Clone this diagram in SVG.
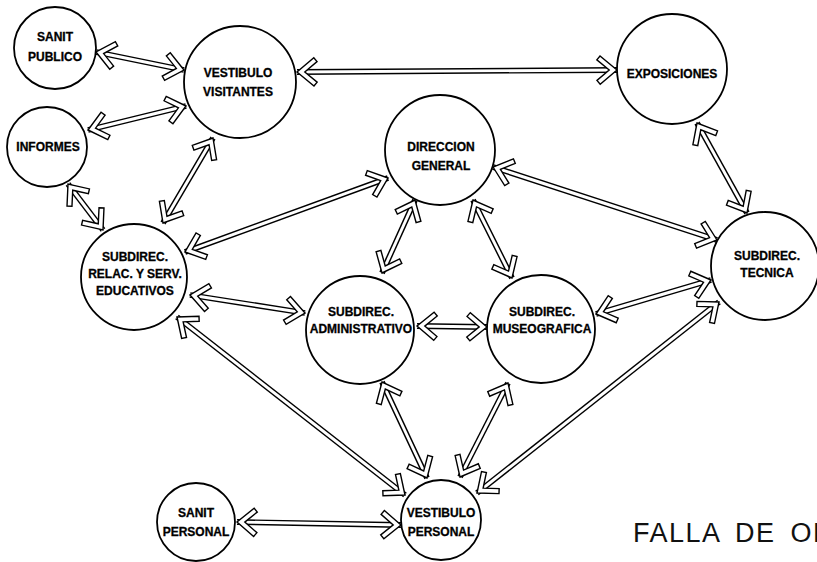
<svg xmlns="http://www.w3.org/2000/svg" width="817" height="562" viewBox="0 0 817 562">
<style>
.n{fill:#fff;stroke:#000;stroke-width:1.8}
.t{font-family:"Liberation Sans",Arial,sans-serif;font-weight:bold;font-size:12px;text-anchor:middle;fill:#000;stroke:#000;stroke-width:0.3}
.o{stroke:#000;stroke-width:5.8;fill:none}
.i{stroke:#fff;stroke-width:2.9;fill:none;marker-start:url(#ah);marker-end:url(#ah)}
.f{font-family:"Liberation Sans",Arial,sans-serif;font-size:27px;letter-spacing:1.5px;word-spacing:6px;fill:#111}
</style>
<defs>
<marker id="ah" markerUnits="userSpaceOnUse" orient="auto-start-reverse" refX="0" refY="0" markerWidth="1" markerHeight="1" overflow="visible">
<path d="M0,0 L-16.9,-14.1 L-20.1,-10.3 L-7.8,0 L-20.1,10.3 L-16.9,14.1 Z" fill="#fff" stroke="#000" stroke-width="1.4" stroke-linejoin="miter"/>
</marker>
</defs>
<rect width="817" height="562" fill="#fff"/>
<g id="connectors">
<g><path class="o" d="M96,52 L184,70"/><path class="i" d="M96,52 L184,70"/></g>
<g><path class="o" d="M88,130 L186,106"/><path class="i" d="M88,130 L186,106"/></g>
<g><path class="o" d="M297,72 L617,70"/><path class="i" d="M297,72 L617,70"/></g>
<g><path class="o" d="M68,184 L103,230"/><path class="i" d="M68,184 L103,230"/></g>
<g><path class="o" d="M213,138 L163,223"/><path class="i" d="M213,138 L163,223"/></g>
<g><path class="o" d="M388,178 L185,252"/><path class="i" d="M388,178 L185,252"/></g>
<g><path class="o" d="M493,167 L717,240"/><path class="i" d="M493,167 L717,240"/></g>
<g><path class="o" d="M697,123 L747,213"/><path class="i" d="M697,123 L747,213"/></g>
<g><path class="o" d="M190,295 L305,313"/><path class="i" d="M190,295 L305,313"/></g>
<g><path class="o" d="M415,200 L382,273"/><path class="i" d="M415,200 L382,273"/></g>
<g><path class="o" d="M473,200 L512,278"/><path class="i" d="M473,200 L512,278"/></g>
<g><path class="o" d="M417,326 L487,327"/><path class="i" d="M417,326 L487,327"/></g>
<g><path class="o" d="M596,314 L711,280"/><path class="i" d="M596,314 L711,280"/></g>
<g><path class="o" d="M177,317 L405,495"/><path class="i" d="M177,317 L405,495"/></g>
<g><path class="o" d="M382,382 L427,478"/><path class="i" d="M382,382 L427,478"/></g>
<g><path class="o" d="M508,383 L460,477"/><path class="i" d="M508,383 L460,477"/></g>
<g><path class="o" d="M719,302 L477,493"/><path class="i" d="M719,302 L477,493"/></g>
<g><path class="o" d="M237,522 L401,525"/><path class="i" d="M237,522 L401,525"/></g>
</g>
<g id="sanit-publico"><circle class="n" cx="55" cy="48" r="41"/><text class="t" x="55" y="41">SANIT</text><text class="t" x="55" y="61">PUBLICO</text></g>
<g id="vestibulo-visitantes"><circle class="n" cx="240" cy="82" r="56"/><text class="t" x="238" y="77">VESTIBULO</text><text class="t" x="238" y="96">VISITANTES</text></g>
<g id="informes"><circle class="n" cx="47" cy="147" r="40"/><text class="t" x="48" y="151">INFORMES</text></g>
<g id="exposiciones"><circle class="n" cx="672" cy="69" r="55"/><text class="t" x="672" y="78">EXPOSICIONES</text></g>
<g id="direccion-general"><circle class="n" cx="440" cy="150" r="55"/><text class="t" x="441" y="151">DIRECCION</text><text class="t" x="441" y="170">GENERAL</text></g>
<g id="subdirec-relac"><circle class="n" cx="134" cy="277" r="53"/><text class="t" x="135" y="261">SUBDIREC.</text><text class="t" x="135" y="278">RELAC. Y SERV.</text><text class="t" x="135" y="295">EDUCATIVOS</text></g>
<g id="subdirec-tecnica"><circle class="n" cx="765" cy="266" r="54"/><text class="t" x="767" y="260">SUBDIREC.</text><text class="t" x="767" y="277">TECNICA</text></g>
<g id="subdirec-administrativo"><circle class="n" cx="360" cy="330" r="54"/><text class="t" x="361" y="316">SUBDIREC.</text><text class="t" x="361" y="333">ADMINISTRATIVO</text></g>
<g id="subdirec-museografica"><circle class="n" cx="541" cy="329" r="54"/><text class="t" x="542" y="316">SUBDIREC.</text><text class="t" x="542" y="333">MUSEOGRAFICA</text></g>
<g id="sanit-personal"><circle class="n" cx="196" cy="522" r="39"/><text class="t" x="196" y="517">SANIT</text><text class="t" x="196" y="536">PERSONAL</text></g>
<g id="vestibulo-personal"><circle class="n" cx="441" cy="520" r="40"/><text class="t" x="441" y="517">VESTIBULO</text><text class="t" x="441" y="536">PERSONAL</text></g>
<text class="f" x="633" y="542">FALLA DE OR</text>
</svg>
